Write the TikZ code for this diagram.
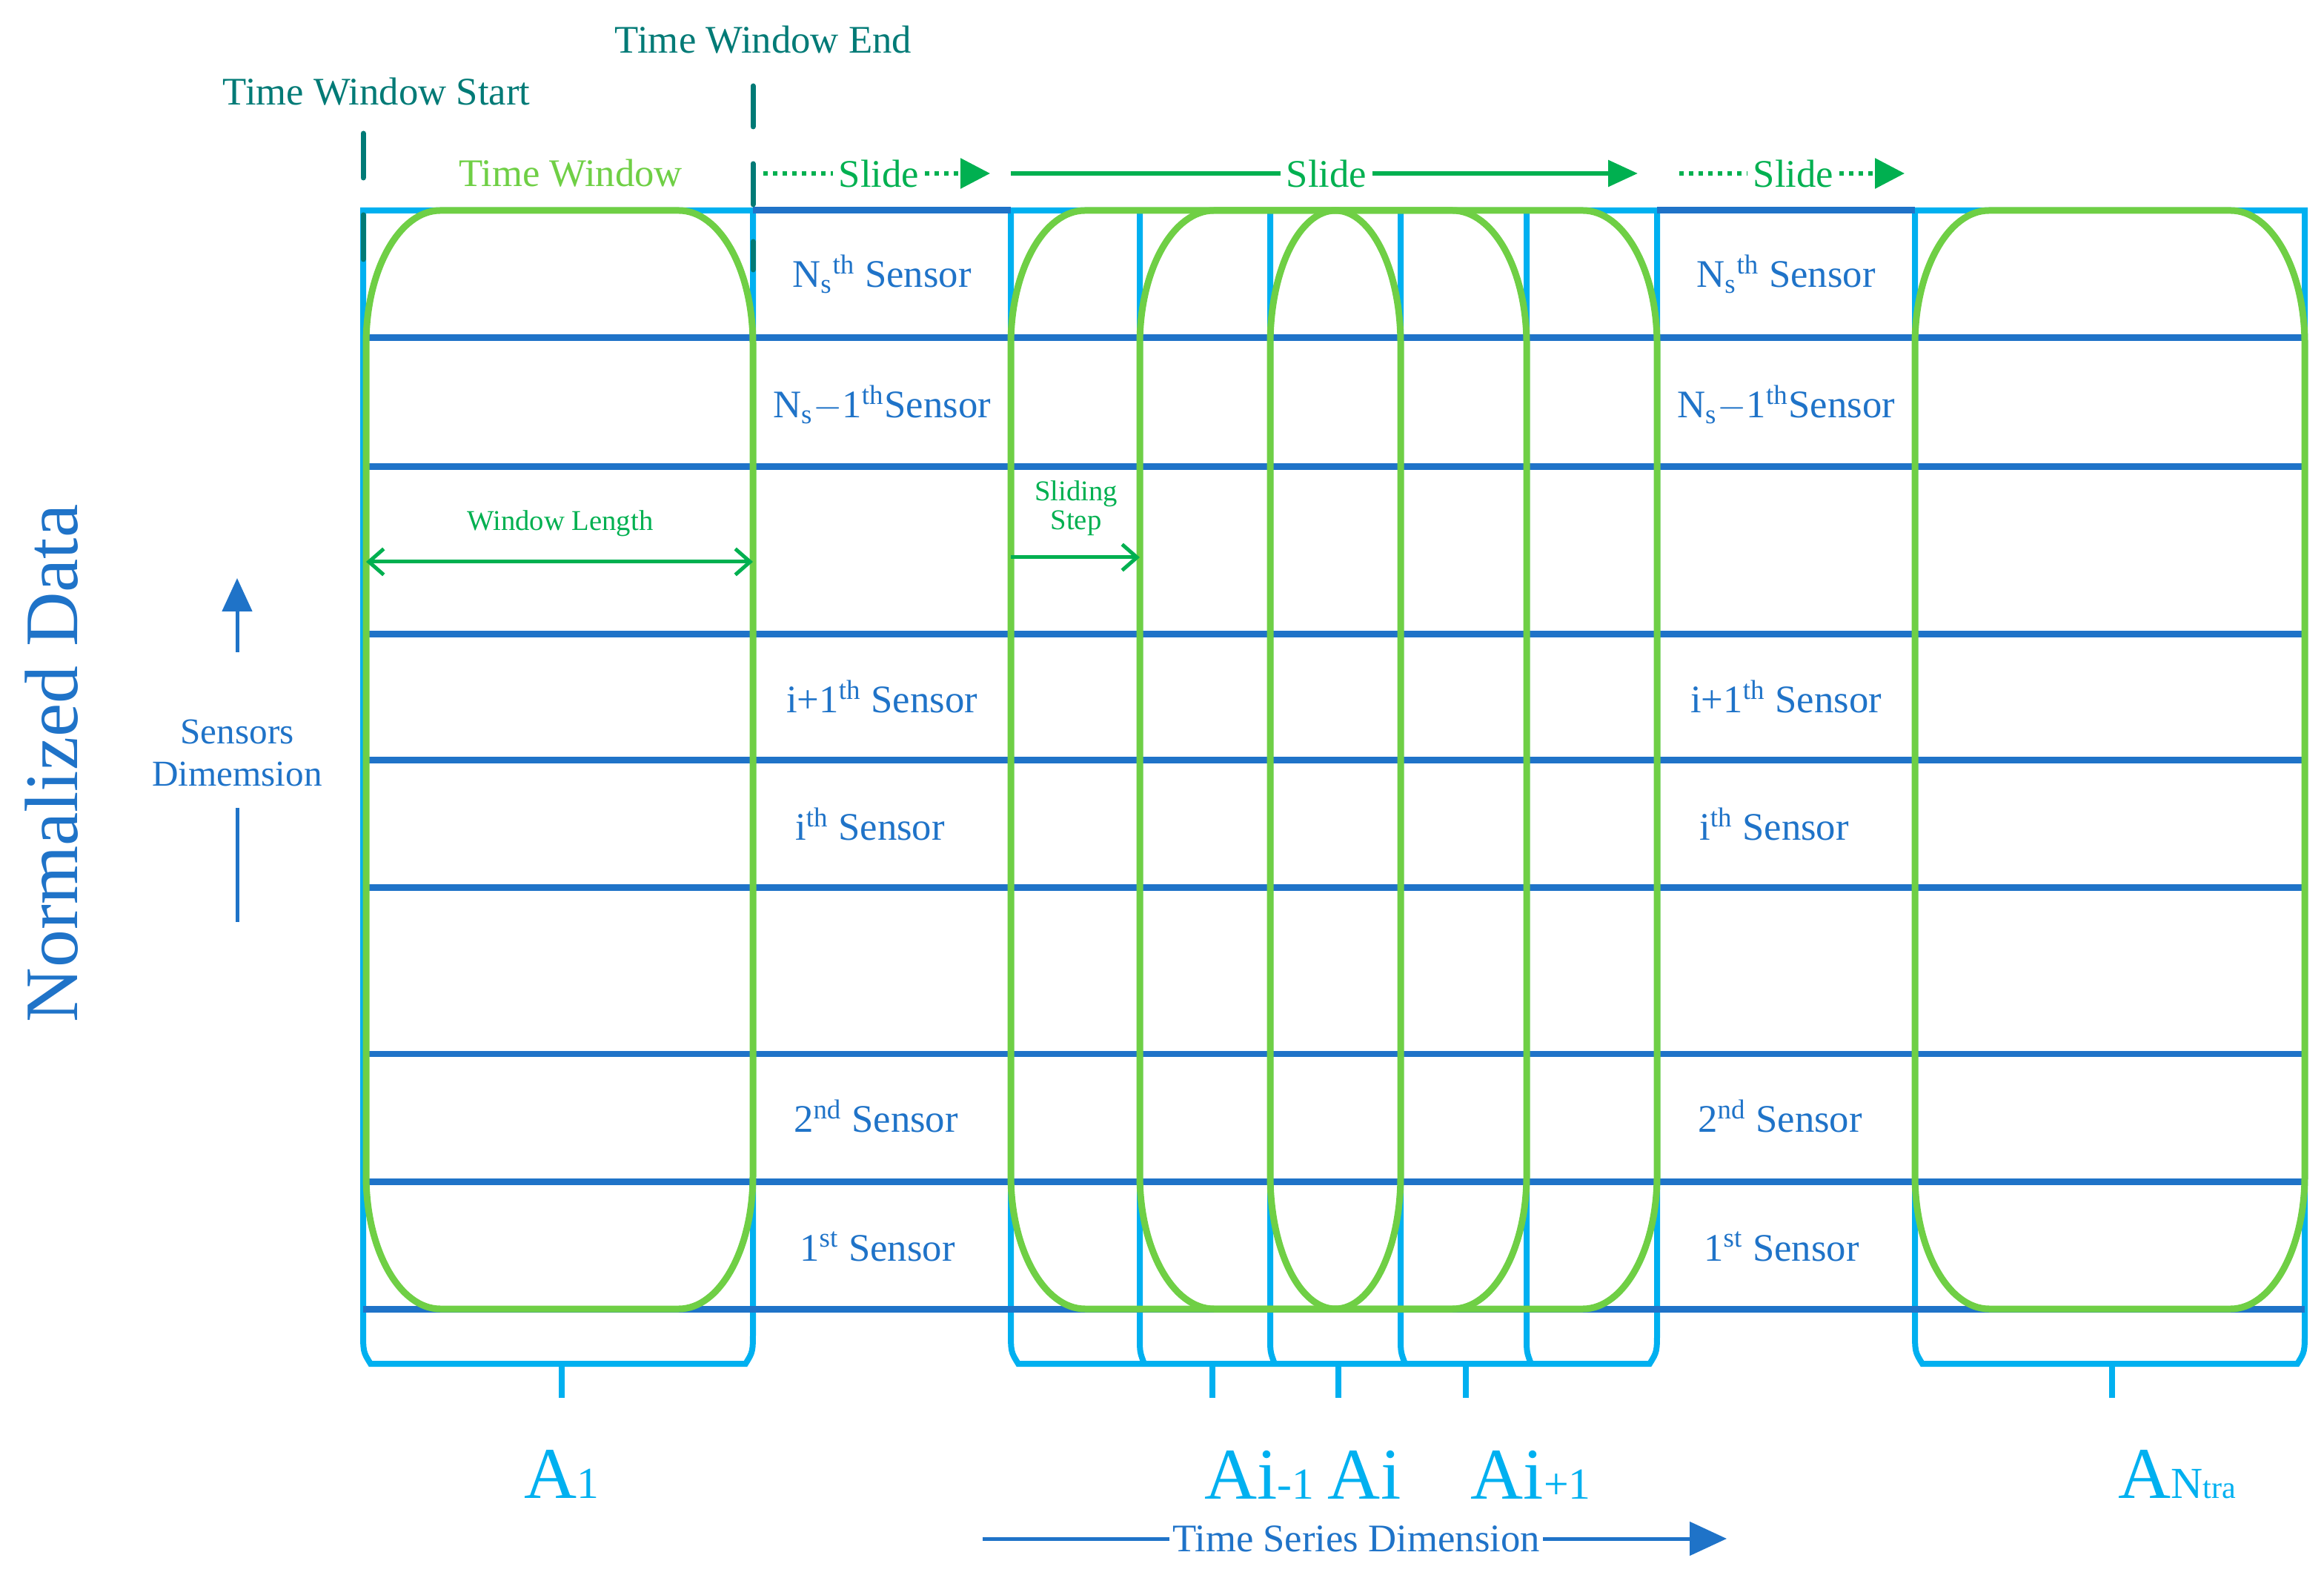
\documentclass[tikz,border=0pt]{standalone}
\usepackage{fontspec}
\setmainfont{Liberation Serif}
\usetikzlibrary{arrows.meta}
\definecolor{rowblue}{HTML}{1F73C8}
\definecolor{boxblue}{HTML}{00B0F0}
\definecolor{winGreen}{HTML}{6FCF45}
\definecolor{arrGreen}{HTML}{00B050}
\definecolor{edgeTeal}{HTML}{007A76}
\tikzset{
  row/.style={rowblue, line width=0.09cm},
  box/.style={boxblue, line width=0.08cm},
  win/.style={winGreen, line width=0.09cm},
  sensor/.style={rowblue, font=\fontsize{15}{15}\selectfont, inner sep=0pt},
  edgemark/.style={edgeTeal, font=\fontsize{15}{15}\selectfont, inner sep=1pt},
  slide/.style={arrGreen, font=\fontsize{15}{15}\selectfont, inner sep=2pt},
  alabel/.style={boxblue, font=\fontsize{28}{28}\selectfont, inner sep=0pt},
}
% rounded window with elliptic corners: x1, x2, rx
\newcommand{\slidewin}[3]{%
  \draw[win] (#1,269) -- (#1,830) arc[start angle=180, end angle=90, x radius=#3, y radius=90]
    -- ({#2-#3},920) arc[start angle=90, end angle=0, x radius=#3, y radius=90]
    -- (#2,269) arc[start angle=0, end angle=-90, x radius=#3, y radius=90]
    -- ({#1+#3},179) arc[start angle=270, end angle=180, x radius=#3, y radius=90] -- cycle;}
% light blue bracket: x1, x2
\newcommand{\bracketbox}[2]{%
  \draw[box] (#1,920) -- (#1,165) .. controls (#1,150) .. ({#1+5},142)
    -- ({#2-5},142) .. controls (#2,150) .. (#2,165) -- (#2,920) -- cycle;}
\begin{document}
\begin{tikzpicture}[x=0.02cm, y=0.02cm]
    \useasboundingbox (0,0) rectangle (1568,1062);

    % brackets
    \bracketbox{245}{508}
    \bracketbox{682}{1118}
    \bracketbox{1292}{1555}
    \foreach \x in {769,857,945,1030}
        \draw[box] (\x,920) -- (\x,160) .. controls (\x,150) .. ({\x+3},142);
    \foreach \x/\t in {379/1,818/2,903/3,989/4,1425/5}
        \draw[box] (\x,142) -- (\x,119) coordinate (tick\t);

    % sensor rows
    \foreach \y in {834,747,634,549,463,351,265,179}
        \draw[row] (245,\y) -- (1555,\y);
    \draw[row] (508,920) -- (682,920);
    \draw[row] (1118,920) -- (1292,920);

    % windows
    \slidewin{247}{508}{50}
    \slidewin{682}{1118}{50}
    \slidewin{769}{1030}{50}
    \slidewin{857}{945}{44}
    \slidewin{1292}{1555}{50}

    % window start / end
    \draw[edgeTeal, line width=0.07cm, line cap=round, dash pattern=on 0.6cm off 0.5cm] (245,972) -- (245,880);
    \draw[edgeTeal, line width=0.07cm, line cap=round, dash pattern=on 0.55cm off 0.5cm] (508,1004) -- (508,880);
    \node[edgemark] (wstart) at (254,1000) {Time Window Start};
    \node[edgemark] (wend) at (515,1035) {Time Window End};
    \node[winGreen, font=\fontsize{15}{15}\selectfont] (twin) at (385,945) {Time Window};

    % slides
    \node[slide] (slide1) at (593,945) {Slide};
    \node[slide] (slide2) at (895,945) {Slide};
    \node[slide] (slide3) at (1210,945) {Slide};
    \coordinate (s1a) at (515,945); \coordinate (s1b) at (668,945);
    \coordinate (s2a) at (682,945); \coordinate (s2b) at (1105,945);
    \coordinate (s3a) at (1133,945); \coordinate (s3b) at (1285,945);
    \draw[arrGreen, line width=0.06cm, dotted] (s1a) -- (slide1.west);
    \draw[arrGreen, line width=0.06cm, dotted, -{Triangle[length=0.4cm,width=0.4cm]}] (slide1.east) -- (s1b);
    \draw[arrGreen, line width=0.06cm] (s2a) -- (slide2.west);
    \draw[arrGreen, line width=0.06cm, -{Triangle[length=0.4cm,width=0.35cm]}] (slide2.east) -- (s2b);
    \draw[arrGreen, line width=0.06cm, dotted] (s3a) -- (slide3.west);
    \draw[arrGreen, line width=0.06cm, dotted, -{Triangle[length=0.4cm,width=0.4cm]}] (slide3.east) -- (s3b);

    % sensor labels
    \foreach \x/\c in {595/a,1205/b} {
        \node[sensor] (ns\c) at (\x,877) {N\textsubscript{s}\textsuperscript{th} Sensor};
        \node[sensor] (nsm\c) at (\x,789) {N\textsubscript{s}$-$1\textsuperscript{th}Sensor};
        \node[sensor] (ip\c) at (\x,592) {i+1\textsuperscript{th} Sensor};
        \node[sensor] (ii\c) at ({\x-8},506) {i\textsuperscript{th} Sensor};
        \node[sensor] (sec\c) at ({\x-4},309) {2\textsuperscript{nd} Sensor};
        \node[sensor] (fst\c) at ({\x-3},221) {1\textsuperscript{st} Sensor};
    }

    % window length, sliding step
    \node[arrGreen, font=\fontsize{11}{11}\selectfont] (wlen) at (378,709) {Window Length};
    \coordinate (wl1) at (247,683); \coordinate (wl2) at (508,683);
    \draw[arrGreen, line width=0.05cm, {Straight Barb[length=0.2cm,width=0.35cm]}-{Straight Barb[length=0.2cm,width=0.35cm]}] (wl1) -- (wl2);
    \node[arrGreen, font=\fontsize{11}{11}\selectfont, align=center, inner sep=0pt] (sstep) at (726,719) {Sliding\\Step};
    \coordinate (ss1) at (682,686); \coordinate (ss2) at (769,686);
    \draw[arrGreen, line width=0.05cm, -{Straight Barb[length=0.2cm,width=0.35cm]}] (ss1) -- (ss2);

    % axes
    \node[rowblue, rotate=90, font=\fontsize{29}{29}\selectfont] (normdata) at (35,547) {Normalized Data};
    \node[rowblue, align=center, font=\fontsize{14}{16}\selectfont] (sdim) at (160,554) {Sensors\\Dimemsion};
    \coordinate (sd1) at (160,622); \coordinate (sd2) at (160,672);
    \coordinate (sd3) at (160,517); \coordinate (sd4) at (160,440);
    \draw[rowblue, line width=0.05cm, -{Triangle[length=0.45cm,width=0.4cm]}] (sd1) -- (sd2);
    \draw[rowblue, line width=0.05cm] (sd3) -- (sd4);
    \node[rowblue, font=\fontsize{15}{15}\selectfont, inner sep=1pt] (tsdim) at (915,24) {Time Series Dimension};
    \coordinate (ts1) at (663,24); \coordinate (ts2) at (1165,24);
    \draw[rowblue, line width=0.05cm] (ts1) -- (tsdim.west);
    \draw[rowblue, line width=0.05cm, -{Triangle[length=0.5cm,width=0.45cm]}] (tsdim.east) -- (ts2);

    % segment labels
    \node[alabel, anchor=north] (a1) at ([yshift=-20]tick1) {A\fontsize{17}{17}\selectfont 1};
    \node[alabel, anchor=north] (aim) at ([xshift=18,yshift=-20]tick2) {Ai\fontsize{17}{17}\selectfont -1};
    \node[alabel, anchor=north] (ai) at ([xshift=10,yshift=-20]tick3) {Ai};
    \node[alabel, anchor=north] (aip) at ([xshift=25,yshift=-20]tick4) {Ai\fontsize{17}{17}\selectfont +1};
    \node[alabel, anchor=north] (antra) at ([xshift=25,yshift=-20]tick5) {A\fontsize{17}{17}\selectfont N\fontsize{12}{12}\selectfont tra};
\end{tikzpicture}
\end{document}
